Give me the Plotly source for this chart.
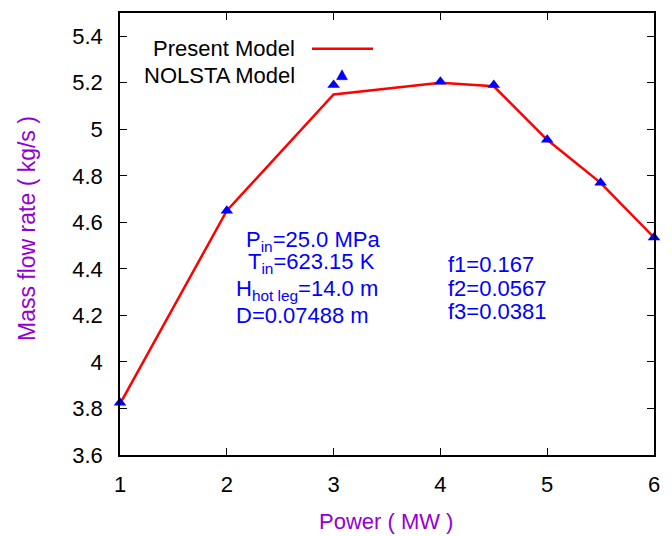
import plotly.graph_objects as go

# ---- data ----
power_present = [1, 2, 3, 4, 4.5, 5, 5.5, 6]
flow_present = [3.82, 4.65, 5.15, 5.20, 5.185, 4.955, 4.77, 4.535]

power_nolsta = [1, 2, 3, 4, 4.5, 5, 5.5, 6]
flow_nolsta = [3.825, 4.65, 5.19, 5.205, 5.19, 4.955, 4.77, 4.535]

x_ticks = [1, 2, 3, 4, 5, 6]
y_ticks = [3.6, 3.8, 4.0, 4.2, 4.4, 4.6, 4.8, 5.0, 5.2, 5.4]
y_tick_text = ["3.6", "3.8", "4", "4.2", "4.4", "4.6", "4.8", "5", "5.2", "5.4"]

legend_names = ["Present Model", "NOLSTA Model"]
param_lines = ["P<sub>in</sub>=25.0 MPa", "T<sub>in</sub>=623.15 K",
               "H<sub>hot leg</sub>=14.0 m", "D=0.07488 m"]
f_lines = ["f1=0.167", "f2=0.0567", "f3=0.0381"]

# ---- layout geometry ----
W, H = 672, 536
ML, MR, MT, MB = 120, 18, 11, 81
PW, PH = W - ML - MR, H - MT - MB


def px(x):
    return (x - ML) / PW


def py(y):
    return (H - MB - y) / PH


FONT = "Liberation Sans, Arial, sans-serif"
BLUE = "#0000ff"
PURPLE = "#9400d3"

fig = go.Figure()
fig.add_trace(go.Scatter(x=power_present, y=flow_present, mode="lines",
                         line=dict(color="#ff0000", width=2.5),
                         name=legend_names[0], showlegend=False))
fig.add_trace(go.Scatter(x=power_nolsta, y=flow_nolsta, mode="markers",
                         marker=dict(symbol="triangle-up", size=11, color=BLUE),
                         name=legend_names[1], showlegend=False, cliponaxis=False))

axis_common = dict(showline=True, linecolor="black", linewidth=1.5, mirror="ticks",
                   ticks="inside", ticklen=7, tickcolor="black", tickwidth=1,
                   showgrid=False, zeroline=False,
                   tickfont=dict(family=FONT, size=22, color="black"))

fig.update_xaxes(range=[1, 6], tickvals=x_ticks, ticktext=[str(v) for v in x_ticks],
                 ticklabelstandoff=9, **axis_common)
fig.update_yaxes(range=[3.6, 5.5], tickvals=y_ticks, ticktext=y_tick_text,
                 ticklabelstandoff=11, **axis_common)

annotations = []
# axis titles
annotations.append(dict(text="Power ( MW )", xref="paper", yref="paper",
                        x=px(386), y=py(522), xanchor="center", yanchor="middle",
                        showarrow=False, font=dict(family=FONT, size=22, color=PURPLE)))
annotations.append(dict(text="Mass flow rate ( kg/s )", xref="paper", yref="paper",
                        x=px(27), y=py(228), xanchor="center", yanchor="middle",
                        textangle=-90, showarrow=False,
                        font=dict(family=FONT, size=23, color=PURPLE)))
# legend texts
for name, yy in zip(legend_names, [47, 74]):
    annotations.append(dict(text=name, xref="paper", yref="paper",
                            x=px(297), y=py(yy), xanchor="right", yanchor="middle",
                            showarrow=False, font=dict(family=FONT, size=22, color="black")))
# parameter labels
for txt, (xx, yy) in zip(param_lines, [(244, 240), (246, 262), (234, 289), (234, 315)]):
    annotations.append(dict(text=txt, xref="paper", yref="paper",
                            x=px(xx), y=py(yy), xanchor="left", yanchor="middle",
                            showarrow=False, font=dict(family=FONT, size=22, color=BLUE)))
for txt, yy in zip(f_lines, [264, 288, 311]):
    annotations.append(dict(text=txt, xref="paper", yref="paper",
                            x=px(446), y=py(yy), xanchor="left", yanchor="middle",
                            showarrow=False, font=dict(family=FONT, size=22, color=BLUE)))

shapes = []
# legend key: red line
shapes.append(dict(type="line", xref="paper", yref="paper",
                   x0=px(312), x1=px(373), y0=py(47), y1=py(47),
                   line=dict(color="#ff0000", width=2.5)))
# legend key: blue triangle
cx, cy = 342, 73.5
path = "M {} {} L {} {} L {} {} Z".format(px(cx - 5.5), py(cy + 4.5), px(cx + 5.5), py(cy + 4.5),
                                          px(cx), py(cy - 5.5))
shapes.append(dict(type="path", xref="paper", yref="paper", path=path,
                   fillcolor=BLUE, line=dict(color=BLUE, width=0.5)))

fig.update_layout(width=W, height=H, margin=dict(l=ML, r=MR, t=MT, b=MB),
                  paper_bgcolor="white", plot_bgcolor="white",
                  annotations=annotations, shapes=shapes, showlegend=False)

fig.write_html("out.html", config={"displayModeBar": False},
               post_script="document.body.style.margin='0';document.body.style.overflow='hidden';")
